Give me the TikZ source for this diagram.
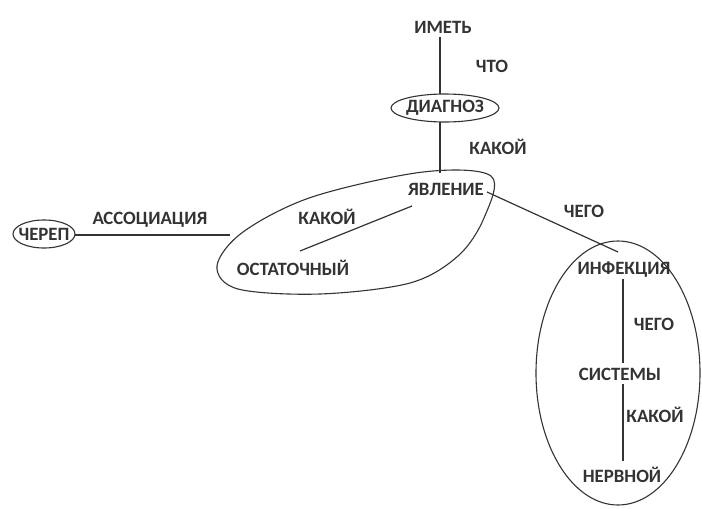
\documentclass[tikz,border=0pt]{standalone}
\usepackage{fontspec}
\setmainfont{Carlito}
\usetikzlibrary{calc}
\begin{document}
\begin{tikzpicture}[x=1pt,y=-1pt,
  word/.style={inner sep=1pt, text=black!80, font=\bfseries\fontsize{18.8}{20}\selectfont},
  link/.style={draw=black!80, line width=1.2pt},
  outline/.style={draw=black!80, line width=1.1pt}]
\useasboundingbox (0,0) rectangle (702,509);

% concept words
\node[word] (imet) at (443,27) {ИМЕТЬ};
\node[word] (diag) at (445,108) {ДИАГНОЗ};
\node[word] (yavl) at (446,189) {ЯВЛЕНИЕ};
\node[word] (ost)  at (293,268) {ОСТАТОЧНЫЙ};
\node[word] (cher) at (44,234) {ЧЕРЕП};
\node[word] (inf)  at (624,270) {ИНФЕКЦИЯ};
\node[word] (sist) at (620,374) {СИСТЕМЫ};
\node[word] (nerv) at (622,475) {НЕРВНОЙ};

% relation labels
\node[word] (l1) at (492,66)  {ЧТО};
\node[word] (l2) at (498,147) {КАКОЙ};
\node[word] (l3) at (327,217) {КАКОЙ};
\node[word] (l4) at (150,220) {АССОЦИАЦИЯ};
\node[word] (l5) at (584,211) {ЧЕГО};
\node[word] (l6) at (654,324) {ЧЕГО};
\node[word] (l7) at (655,415) {КАКОЙ};

% enclosing outlines
\draw[outline] (diag) ellipse [x radius=54, y radius=14];
\draw[outline] (cher) ellipse [x radius=31, y radius=14];
\draw[outline] (618,373) ellipse [x radius=82, y radius=132];
\draw[outline] plot[smooth cycle, tension=0.55] coordinates {
  (491,176) (423,172) (312,197) (243,232) (217,266) (238,289)
  (320,294) (410,283) (458,256) (484,218)};

% connector end points
\coordinate (diagTop) at (440,94);
\coordinate (diagBot) at (440,122);
\coordinate (leafTop) at (440,173);
\coordinate (leafLeft) at (230,235);
\coordinate (leafRight) at (487,192);
\coordinate (cherEnd) at (75,235);
\coordinate (ostTail) at (300,251);
\coordinate (yavTail) at (412,206);
\coordinate (infTip) at (618,252);

% connectors
\draw[link] (imet.south -| diagTop) ++(0,3) -- (diagTop);
\draw[link] (diagBot) -- (leafTop);
\draw[link] (cherEnd) -- (leafLeft);
\draw[link] (ostTail) -- (yavTail);
\draw[link] (leafRight) -- (infTip);
\draw[link] (623,279) -- (623,363);
\draw[link] (623,384) -- (623,461);
\end{tikzpicture}
\end{document}
